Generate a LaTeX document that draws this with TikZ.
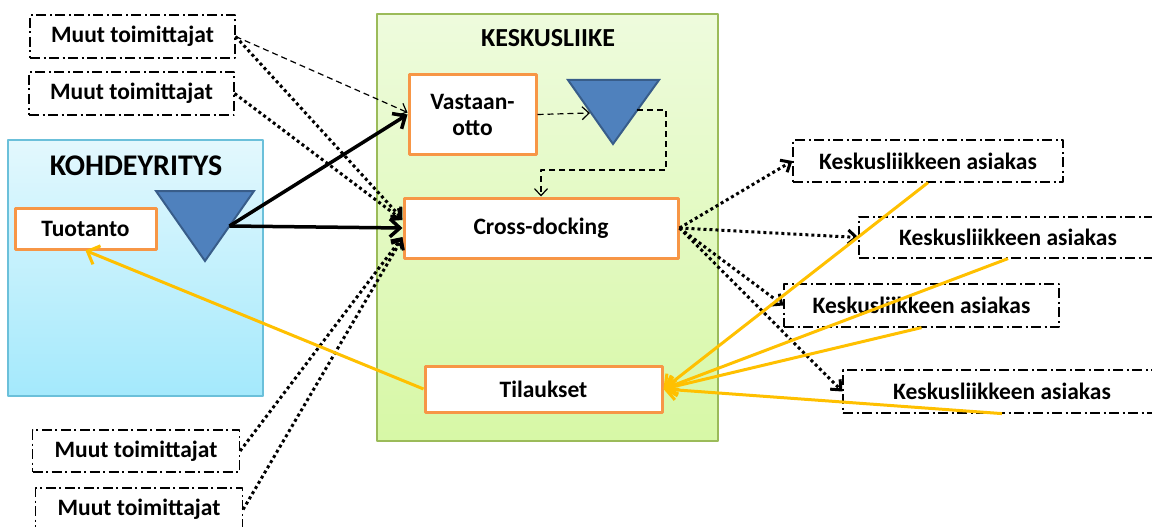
\documentclass[tikz,border=0pt]{standalone}
\usepackage{fontspec}
\setmainfont{Carlito}
\usetikzlibrary{arrows.meta,calc}

\definecolor{procedge}{HTML}{F79646}
\definecolor{orderline}{HTML}{FFC000}
\definecolor{stockfill}{HTML}{4F81BD}
\definecolor{stockedge}{HTML}{385D8A}
\definecolor{kohdetop}{HTML}{E3F8FD}
\definecolor{kohdebot}{HTML}{A4E9FC}
\definecolor{kohdeedge}{HTML}{6BC0DA}
\definecolor{keskustop}{HTML}{EEFBDD}
\definecolor{keskusbot}{HTML}{D7F8A6}
\definecolor{keskusedge}{HTML}{9BBB59}

\tikzset{
  txt/.style={font=\fontsize{23.5}{26}\selectfont\bfseries},
  proc/.style={txt, draw=procedge, line width=3pt, fill=white, inner sep=0pt},
  party/.style={txt, draw, line width=1.2pt, dash pattern=on 10pt off 3.5pt on 2pt off 3.5pt, inner sep=0pt},
  stock/.style={fill=stockfill, draw=stockedge, line width=2pt, line join=miter},
  heavy/.style={line width=3.5pt, -{Straight Barb[length=10pt,width=18pt]}},
  dots/.style={line width=3pt, dash pattern=on 3pt off 3pt, -{Straight Barb[length=8pt,width=14pt]}},
  thin/.style={line width=1.2pt, dash pattern=on 6pt off 4pt, -{Straight Barb[length=7pt,width=13pt]}},
  order/.style={orderline, line width=3pt, -{Straight Barb[length=10pt,width=20pt]}}
}

\begin{document}
\begin{tikzpicture}[x=1pt, y=-1pt, line join=round]
  \useasboundingbox (0,0) rectangle (1152,527);

  % the two companies
  \draw[kohdeedge, line width=1.2pt, top color=kohdetop, bottom color=kohdebot] (8,140) rectangle (263,396);
  \draw[keskusedge, line width=1.2pt, top color=keskustop, bottom color=keskusbot] (377,14) rectangle (718,441);
  \node[font=\fontsize{30}{32}\selectfont\bfseries] (kohde) at (136,166) {KOHDEYRITYS};
  \node[font=\fontsize{26}{28}\selectfont\bfseries] (keskus) at (548,38) {KESKUSLIIKE};

  % suppliers
  \node[party, minimum width=205pt, minimum height=43pt] (muut1) at (132.5,36.5) {Muut toimittajat};
  \node[party, minimum width=205pt, minimum height=43pt] (muut2) at (131.5,93.5) {Muut toimittajat};
  \node[party, minimum width=207pt, minimum height=42pt] (muut3) at (136,451) {Muut toimittajat};
  \node[party, minimum width=207pt, minimum height=43pt] (muut4) at (139,509.5) {Muut toimittajat};

  % process boxes
  \node[proc, minimum width=141pt, minimum height=41pt] (tuotanto) at (85.5,228.5) {Tuotanto};
  \node[proc, minimum width=127pt, minimum height=79pt, align=center] (vast) at (472.5,114.5) {Vastaan-\\otto};
  \node[proc, minimum width=274pt, minimum height=60pt] (cross) at (541,228) {Cross-docking};
  \node[proc, minimum width=237pt, minimum height=46pt] (tilaus) at (543.5,389) {Tilaukset};

  % customers
  \node[party, minimum width=270pt, minimum height=42pt] (as1) at (928,161) {Keskusliikkeen asiakas};
  \node[party, minimum width=298pt, minimum height=41pt] (as2) at (1008,237.5) {Keskusliikkeen asiakas};
  \node[party, minimum width=275pt, minimum height=43pt] (as3) at (921.5,305.5) {Keskusliikkeen asiakas};
  \node[party, minimum width=318pt, minimum height=43pt] (as4) at (1002,391.5) {Keskusliikkeen asiakas};

  % stock triangles
  \draw[stock] (156,191) -- (254,191) -- (205,261) -- cycle;
  \draw[stock] (568,80) -- (659,80) -- (613,144) -- cycle;
  \coordinate (varasto1) at (229.5,226);
  \coordinate (varasto2in) at (590,113);
  \coordinate (varasto2out) at (637,110);
  \coordinate (kaanto) at (666,170);

  % goods flow
  \draw[heavy] (varasto1) -- (vast.west);
  \draw[heavy] (varasto1) -- (cross.west);
  \draw[thin] (muut1.east) -- ($(vast.west)+(0,-2)$);
  \draw[thin] (vast.east) -- (varasto2in);
  \draw[thin] (varasto2out) -| (kaanto) -| (cross.north);
  \draw[dots] (muut1.east) -- ($(cross.west)+(0,-9)$);
  \draw[dots] (muut2.east) -- ($(cross.west)+(0,-8)$);
  \draw[dots] (muut3.east) -- ($(cross.west)+(0,9)$);
  \draw[dots] (muut4.east) -- ($(cross.west)+(0,10)$);
  \foreach \k in {1,...,4}
    \draw[dots] (cross.east) -- (as\k.west);

  % orders
  \foreach \k in {1,...,4}
    \draw[order] (as\k.south) -- (tilaus.east);
  \draw[order] (tilaus.west) -- (tuotanto.south);
\end{tikzpicture}
\end{document}
